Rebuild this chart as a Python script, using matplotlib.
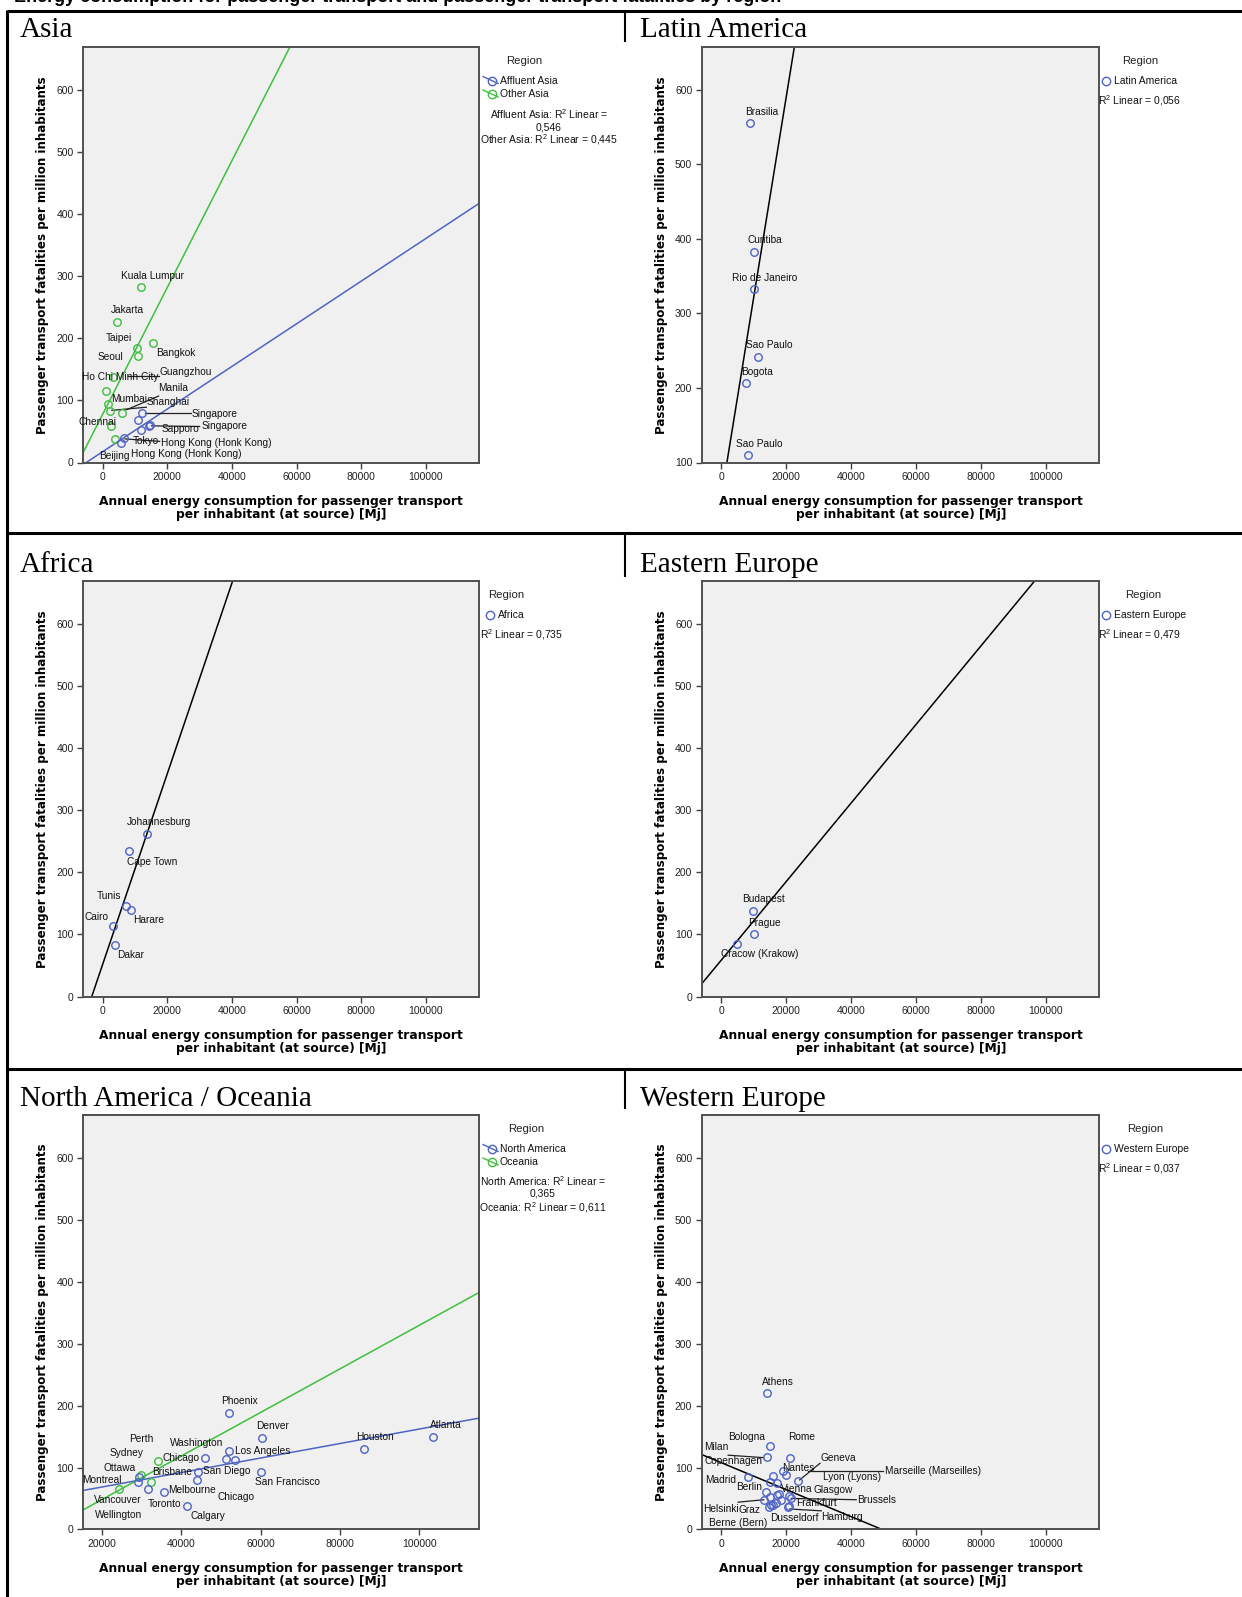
import matplotlib
matplotlib.use('Agg')
import matplotlib.pyplot as plt
from matplotlib.lines import Line2D
import numpy as np

plt.rcParams['font.family'] = ['Liberation Sans', 'DejaVu Sans']
plt.rcParams['mathtext.fontset'] = 'custom'
plt.rcParams['mathtext.rm'] = 'Liberation Sans'
plt.rcParams['mathtext.it'] = 'Liberation Sans:italic'

W, H = 1242, 1597
BLUE = '#4f63c4'
GREEN = '#3fbf3f'
GRAY_BG = '#f0f0f0'

# ---- data ----
# Asia
asia_aff_x = [12200, 11000, 14500, 14200, 11700, 6500, 5500]
asia_aff_y = [79, 68, 60, 59, 53, 39, 31]
asia_oth_x = [11900, 4300, 10700, 15400, 10900, 3300, 1000, 1500, 2100, 6100, 2500, 3800]
asia_oth_y = [283, 227, 185, 192, 171, 137, 115, 94, 83, 80, 58, 38]
asia_aff_fit = (17.5, 0.00343)
asia_oth_fit = (78.0, 0.0102)
asia_r2 = ['0,546', '0,445']

# Latin America
latam_x = [8870, 9900, 9900, 11230, 7550, 8160]
latam_y = [555, 382, 333, 242, 206, 110]
latam_fit = (55.0, 0.0268)
latam_r2 = '0,056'

# Africa
africa_x = [13720, 8000, 7170, 8600, 3080, 3790]
africa_y = [262, 234, 146, 140, 114, 83]
africa_fit = (52.4, 0.01536)
africa_r2 = '0,735'

# Eastern Europe
eeu_x = [9600, 10000, 4700]
eeu_y = [138, 101, 85]
eeu_fit = (59.0, 0.00633)
eeu_r2 = '0,479'

# North America / Oceania
nam_x = [52000, 60300, 52100, 45900, 51300, 53600, 44350, 60000, 43900, 29200,
         31700, 35800, 41400, 29350, 86000, 103500]
nam_y = [188, 148, 126, 116, 114, 112, 93, 93, 80, 77, 65, 61, 38, 84, 130, 149]
oce_x = [34100, 29800, 32300, 24300]
oce_y = [111, 88, 77, 65]
nam_fit = (45.0, 0.001173)
oce_fit = (-22.5, 0.003526)
nam_r2 = ['0,365', '0,611']

# Western Europe
weu_x = [14050, 14870, 13950, 21230, 18870, 19900, 15900, 8310, 23700, 17230,
         14870, 13640, 17740, 17130, 20820, 14870, 21540, 13030, 18460, 15900,
         14670, 20410, 20820, 15380, 16720]
weu_y = [220, 135, 117, 115, 95, 88, 86, 85, 78, 75, 77, 61, 58, 55, 54, 53,
         50, 48, 48, 40, 36, 36, 38, 39, 42]
weu_fit = (107.75, -0.002179)
weu_r2 = '0,037'

# point labels: (text, x, y) in data units
asia_labels = [('Kuala Lumpur', 15400, 301), ('Jakarta', 7700, 246), ('Taipei', 5000, 200),
               ('Bangkok', 22500, 177), ('Seoul', 2300, 170), ('Ho Chi Minh City', 5300, 137),
               ('Guangzhou', 25600, 146), ('Manila', 21700, 120), ('Mumbai', 8200, 102),
               ('Shanghai', 20300, 97), ('Singapore', 34600, 78), ('Chennai', -1600, 65),
               ('Sapporo', 24000, 54), ('Singapore', 37700, 58), ('Tokyo', 13300, 34),
               ('Hong Kong (Honk Kong)', 35000, 32), ('Beijing', 3500, 11),
               ('Hong Kong (Honk Kong)', 26000, 13)]
asia_leaders = [((7900, 17300), (139, 139)), ((17300, 7400), (107, 85)),
                ((13500, 2800), (89, 84)), ((13000, 27400), (79, 79)),
                ((15100, 30000), (59, 58)), ((6900, 17600), (38, 34))]
latam_labels = [('Brasilia', 12360, 570), ('Curitiba', 13470, 398), ('Rio de Janeiro', 13400, 348),
                ('Sao Paulo', 14700, 257), ('Bogota', 11000, 221), ('Sao Paulo', 11540, 125)]
africa_labels = [('Johannesburg', 17400, 281), ('Cape Town', 15260, 217), ('Tunis', 1850, 162),
                 ('Harare', 14340, 123), ('Cairo', -1850, 129), ('Dakar', 8700, 67)]
eeu_labels = [('Budapest', 13070, 157), ('Prague', 13370, 118), ('Cracow (Krakow)', 11630, 68)]
nam_labels = [('Phoenix', 54800, 207), ('Denver', 63050, 167), ('Washington', 44010, 140),
              ('Los Angeles', 60530, 127), ('Perth', 29940, 146), ('Sydney', 26240, 123),
              ('Chicago', 39890, 115), ('Ottawa', 24470, 100), ('Brisbane', 37620, 92),
              ('San Diego', 51520, 95), ('Montreal', 20080, 80), ('San Francisco', 66850, 77),
              ('Melbourne', 42660, 63), ('Vancouver', 24130, 48), ('Chicago', 53800, 53),
              ('Toronto', 35760, 41), ('Wellington', 24300, 24), ('Calgary', 46720, 21),
              ('Houston', 88850, 149), ('Atlanta', 106540, 168)]
weu_labels = [('Athens', 17440, 239), ('Bologna', 7690, 150), ('Rome', 24610, 150),
              ('Milan', -1740, 133), ('Copenhagen', 3590, 111), ('Geneva', 36000, 116),
              ('Nantes', 23590, 100), ('Marseille (Marseilles)', 65130, 94),
              ('Madrid', -310, 80), ('Lyon (Lyons)', 40100, 84), ('Berlin', 8510, 69),
              ('Vienna', 23080, 66), ('Glasgow', 34560, 64), ('Brussels', 47900, 47),
              ('Frankfurt', 29230, 42), ('Helsinki', -310, 33), ('Graz', 8510, 31),
              ('Dusseldorf', 22560, 19), ('Hamburg', 37130, 20), ('Berne (Bern)', 5130, 10)]
weu_leaders = [((2050, 13030), (120, 116)), ((26670, 49740), (95, 95)),
               ((24100, 30400), (80, 107)), ((21540, 41540), (50, 48)),
               ((5130, 13030), (44, 48)), ((21020, 30770), (33, 30))]

fig = plt.figure(figsize=(W / 100, H / 100), dpi=100)


def fx(x):
    return x / W


def fy(y):
    return 1 - y / H


def fline(xs, ys, lw=2.2, color='black'):
    fig.add_artist(Line2D([fx(v) for v in xs], [fy(v) for v in ys], lw=lw, color=color,
                          transform=fig.transFigure, solid_capstyle='butt'))


def panel(left, top, right, bottom, xlim, ylim, xticks, yticks):
    ax = fig.add_axes([fx(left), fy(bottom), (right - left) / W, (bottom - top) / H])
    ax.set_facecolor(GRAY_BG)
    ax.set_xlim(xlim)
    ax.set_ylim(ylim)
    ax.set_xticks(xticks)
    ax.set_yticks(yticks)
    ax.tick_params(direction='out', length=4, width=1, color='#404040', labelsize=7.5,
                   pad=3, labelcolor='#202020')
    for s in ax.spines.values():
        s.set_color('#505050')
        s.set_linewidth(1.4)
    ax.set_xlabel('Annual energy consumption for passenger transport\nper inhabitant (at source) [Mj]',
                  fontsize=8.8, fontweight='bold', family='DejaVu Sans', labelpad=9, linespacing=1.0)
    ax.set_ylabel('Passenger transport fatalities per million inhabitants',
                  fontsize=8.6, fontweight='bold', family='DejaVu Sans', labelpad=5)
    return ax


def scatter(ax, xs, ys, color):
    ax.plot(xs, ys, 'o', ms=5.4, mfc='none', mec=color, mew=1.0, zorder=3)


def fit(ax, a_b, color):
    a, b = a_b
    xx = np.array(ax.get_xlim())
    ax.plot(xx, a + b * xx, color=color, lw=1.1, zorder=2)


def labels(ax, items, leaders=()):
    for t, x, y in items:
        ax.text(x, y, t, fontsize=7.3, ha='center', va='center', color='#111111', zorder=4)
    for xs, ys in leaders:
        ax.plot(xs, ys, color='#222222', lw=0.9, zorder=2)


rows_y = [47, 581, 1115]
rows_b = [462.5, 996.5, 1529.4]
cols_l = [83.4, 702]
cols_r = [479, 1099.4]
xlim_std = (-6000, 116500)
xt_std = [0, 20000, 40000, 60000, 80000, 100000]

# ---- Asia ----
ax = panel(cols_l[0], rows_y[0], cols_r[0], rows_b[0], xlim_std, (0, 669), xt_std, range(0, 700, 100))
fit(ax, asia_aff_fit, BLUE)
fit(ax, asia_oth_fit, GREEN)
labels(ax, asia_labels, asia_leaders)
scatter(ax, asia_oth_x, asia_oth_y, GREEN)
scatter(ax, asia_aff_x, asia_aff_y, BLUE)

# ---- Latin America ----
ax = panel(cols_l[1], rows_y[0], cols_r[1], rows_b[0], xlim_std, (100, 657), xt_std, range(100, 700, 100))
fit(ax, latam_fit, 'black')
labels(ax, latam_labels)
scatter(ax, latam_x, latam_y, BLUE)

# ---- Africa ----
ax = panel(cols_l[0], rows_y[1], cols_r[0], rows_b[1], xlim_std, (0, 670), xt_std, range(0, 700, 100))
fit(ax, africa_fit, 'black')
labels(ax, africa_labels)
scatter(ax, africa_x, africa_y, BLUE)

# ---- Eastern Europe ----
ax = panel(cols_l[1], rows_y[1], cols_r[1], rows_b[1], xlim_std, (0, 670), xt_std, range(0, 700, 100))
fit(ax, eeu_fit, 'black')
labels(ax, eeu_labels)
scatter(ax, eeu_x, eeu_y, BLUE)

# ---- North America / Oceania ----
ax = panel(cols_l[0], rows_y[2], cols_r[0], rows_b[2], (15400, 115000), (0, 670),
           [20000, 40000, 60000, 80000, 100000], range(0, 700, 100))
fit(ax, nam_fit, BLUE)
fit(ax, oce_fit, GREEN)
labels(ax, nam_labels)
scatter(ax, oce_x, oce_y, GREEN)
scatter(ax, nam_x, nam_y, BLUE)

# ---- Western Europe ----
ax = panel(cols_l[1], rows_y[2], cols_r[1], rows_b[2], xlim_std, (0, 670), xt_std, range(0, 700, 100))
fit(ax, weu_fit, 'black')
labels(ax, weu_labels, weu_leaders)
scatter(ax, weu_x, weu_y, BLUE)


# ---- legends ----
def region_title(cx, y):
    fig.text(fx(cx), fy(y), 'Region', fontsize=8.2, ha='center', va='center', color='#222222')


def entry(mx, y, text, color, with_line):
    fig.add_artist(Line2D([fx(mx)], [fy(y)], marker='o', ms=6, mfc='none', mec=color, mew=1.0,
                          transform=fig.transFigure))
    if with_line:
        fig.add_artist(Line2D([fx(mx - 9), fx(mx + 6)], [fy(y - 4), fy(y + 3)], color=color, lw=1.0,
                              transform=fig.transFigure))
    fig.text(fx(mx + 8), fy(y), text, fontsize=7.5, ha='left', va='center', color='#111111')


def note(x, y, text, ha='left'):
    fig.text(fx(x), fy(y), text, fontsize=7.5, ha=ha, va='center', color='#111111')


# Asia
region_title(524, 61)
entry(492, 80.5, 'Affluent Asia', BLUE, True)
entry(492, 94, 'Other Asia', GREEN, True)
note(549, 114, 'Affluent Asia: R$^2$ Linear =', 'center')
note(549, 127, asia_r2[0], 'center')
note(549, 140, 'Other Asia: R$^2$ Linear = ' + asia_r2[1], 'center')
# Latin America
region_title(1140, 61)
entry(1106, 80.5, 'Latin America', BLUE, False)
note(1098, 101, 'R$^2$ Linear = ' + latam_r2)
# Africa
region_title(506, 595)
entry(490, 614.5, 'Africa', BLUE, False)
note(479.5, 635, 'R$^2$ Linear = ' + africa_r2)
# Eastern Europe
region_title(1143, 595)
entry(1106, 614.5, 'Eastern Europe', BLUE, False)
note(1098, 635, 'R$^2$ Linear = ' + eeu_r2)
# North America / Oceania
region_title(526, 1129)
entry(492, 1148.5, 'North America', BLUE, True)
entry(492, 1162, 'Oceania', GREEN, True)
note(543, 1181, 'North America: R$^2$ Linear =', 'center')
note(543, 1194, nam_r2[0], 'center')
note(543, 1207.5, 'Oceania: R$^2$ Linear = ' + nam_r2[1], 'center')
# Western Europe
region_title(1145, 1129)
entry(1106, 1148.5, 'Western Europe', BLUE, False)
note(1098, 1169, 'R$^2$ Linear = ' + weu_r2)

# ---- table frame and cell titles ----
# the page's heading sits above the crop, only its lower edge shows
fig.text(fx(14), fy(2), 'Energy consumption for passenger transport and passenger transport fatalities by region',
         fontsize=13, fontweight='bold', ha='left', va='baseline')
fline([6.5, W], [10.5, 10.5])
fline([6.5, W], [532.5, 532.5])
fline([6.5, W], [1068.5, 1068.5])
fline([6.5, 6.5], [10, H])
for y0, y1 in [(10, 42), (532, 577), (1068, 1109)]:
    fline([625, 625], [y0, y1], lw=1.5)

titles = [('Asia', 20, 37), ('Latin America', 640, 37), ('Africa', 20, 571.5),
          ('Eastern Europe', 640, 571.5), ('North America / Oceania', 20, 1105.5),
          ('Western Europe', 640, 1105.5)]
for t, x, y in titles:
    fig.text(fx(x), fy(y), t, fontsize=21, family='Liberation Serif', ha='left', va='baseline')

fig.savefig('out.png', dpi=100)
